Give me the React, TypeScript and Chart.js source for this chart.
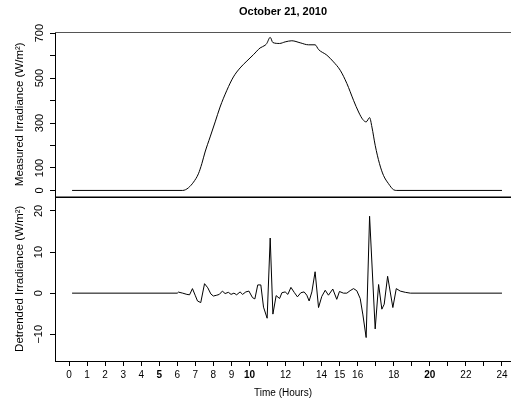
import { useEffect, useRef } from 'react';
import { Chart, registerables } from 'chart.js';

Chart.register(...registerables);

// ---- data ----
const measuredHours = [
  0.1667, 6.3, 6.45, 6.62, 6.9, 7.17, 7.36, 7.54, 7.82, 8.1, 8.37, 8.75, 9.11, 9.48, 9.86,
  10.22, 10.59, 10.87, 10.96, 11.15, 11.3, 11.67, 11.98, 12.35, 12.81, 13.27, 13.64, 13.83,
  14.29, 14.66, 15.03, 15.4, 15.77, 16.05, 16.29, 16.47, 16.66, 16.79, 16.97, 17.21, 17.43,
  17.71, 17.99, 18.17, 24.0,
];
const measuredValues = [
  0, 0, 3, 12, 37, 74, 119, 171, 238, 305, 371, 446, 505, 545, 576,
  604, 634, 646, 654, 681, 658, 654, 661, 666, 657, 648, 648, 627,
  602, 572, 535, 476, 401, 349, 315, 305, 324, 282, 201, 119, 67,
  30, 3, 0, 0,
];

const detrendedHours = [
  0.1667, 6.0, 6.06, 6.3, 6.53, 6.68, 6.84, 6.99, 7.12, 7.3, 7.51, 7.69, 7.86, 8.0, 8.19,
  8.33, 8.5, 8.65, 8.83, 8.98, 9.14, 9.29, 9.48, 9.62, 9.8, 9.97, 10.17, 10.3, 10.46, 10.63,
  10.78, 10.98, 11.15, 11.3, 11.48, 11.67, 11.8, 11.98, 12.13, 12.3, 12.48, 12.66, 12.85,
  13.03, 13.18, 13.31, 13.46, 13.64, 13.83, 14.01, 14.2, 14.38, 14.62, 14.84, 14.99, 15.21,
  15.4, 15.58, 15.77, 15.95, 16.14, 16.29, 16.47, 16.66, 16.97, 17.16, 17.34, 17.47, 17.66,
  17.95, 18.14, 18.36, 18.64, 18.92, 24.0,
];
const detrendedValues = [
  0, 0, 0.25, 0, -0.3, -0.4, 1.1, -0.5, -1.9, -2.3, 2.3, 1.3, -0.2, -0.7, -0.5,
  -0.3, 0.5, -0.1, 0.2, -0.3, 0.0, -0.4, 0.3, -0.3, 0.3, 0.5, -1.1, -1.4, 2.0, 2.0,
  -3.4, -6.1, 13.4, -5.1, -0.6, -1.3, 0.1, 0.3, -0.3, 1.4, 0.2, -0.9, 0.1,
  0.3, -0.5, -1.9, 0.3, 5.2, -3.5, -0.8, 0.7, -0.5, 1.0, -1.5, 0.4, 0.0,
  0.0, 0.6, 1.1, 0.6, -1.3, -5.3, -10.8, 18.7, -8.7, 2.1, -3.9, -2.7, 4.1,
  -3.5, 1.1, 0.5, 0.2, 0.0, 0,
];

const xTickValues = [0, 1, 2, 3, 4, 5, 6, 7, 8, 9, 10, 11, 12, 13, 14, 15, 16, 17, 18, 19, 20, 21, 22, 23, 24];
const xTickLabels = ['0', '1', '2', '3', '4', '5', '6', '7', '8', '9', '10', '', '12', '', '14', '15', '16', '', '18', '', '20', '', '22', '', '24'];
const xBoldTicks = [5, 10, 20];

const measuredTickValues = [0, 100, 200, 300, 400, 500, 600, 700];
const measuredTickLabels = ['0', '100', '', '300', '', '500', '', '700'];

const detrendedTickValues = [-10, 0, 10, 20];
const detrendedTickLabels = ['\u221210', '0', '10', '20'];

const titleText = 'October 21, 2010';
const xTitle = 'Time (Hours)';
const topTitle = 'Measured Irradiance (W/m\u00B2)';
const bottomTitle = 'Detrended Irradiance (W/m\u00B2)';

const FONT = "'Liberation Sans', Arial, Helvetica, sans-serif";

const framePlugin = {
  id: 'panelFrame',
  afterDraw(chart: any) {
    const { ctx, chartArea } = chart;
    const top = chart.scales.yTop;
    ctx.save();
    ctx.strokeStyle = '#555';
    ctx.lineWidth = 1;
    ctx.beginPath();
    ctx.moveTo(chartArea.left, Math.round(top.top) + 0.5);
    ctx.lineTo(chartArea.right, Math.round(top.top) + 0.5);
    ctx.stroke();
    ctx.strokeStyle = '#000';
    ctx.lineWidth = 1.5;
    ctx.beginPath();
    ctx.moveTo(chartArea.left, Math.round(top.bottom) + 0.25);
    ctx.lineTo(chartArea.right, Math.round(top.bottom) + 0.25);
    ctx.stroke();
    ctx.restore();
  },
};

function yScale(opts: {
  min: number; max: number; values: number[]; labels: string[]; title: string; weight: number; pad: number;
}) {
  return {
    type: 'linear' as const,
    position: 'left' as const,
    stack: 'panels',
    stackWeight: 1,
    weight: opts.weight,
    min: opts.min,
    max: opts.max,
    afterBuildTicks: (s: any) => {
      s.ticks = opts.values.map((v) => ({ value: v }));
    },
    afterFit: (s: any) => {
      s.width = 55;
    },
    ticks: {
      autoSkip: false,
      minRotation: 90,
      maxRotation: 90,
      crossAlign: 'center' as const,
      padding: opts.pad,
      color: '#000',
      font: { family: FONT, size: 11 },
      callback: (v: any) => {
        const i = opts.values.indexOf(Number(v));
        return i >= 0 ? opts.labels[i] : '';
      },
    },
    grid: { drawOnChartArea: false, drawTicks: true, tickLength: 5, color: '#000' },
    border: { display: true, color: '#000', width: 1 },
    title: {
      display: true,
      text: opts.title,
      color: '#000',
      font: { family: FONT, size: 11.5 },
      padding: { top: 13, bottom: 0 },
    },
  };
}

export default function App() {
  const ref = useRef<HTMLCanvasElement>(null);

  useEffect(() => {
    if (!ref.current) return;
    const chart = new Chart(ref.current, {
      type: 'line',
      data: {
        datasets: [
          {
            data: measuredHours.map((h, i) => ({ x: h, y: measuredValues[i] })),
            yAxisID: 'yTop',
            borderColor: '#000',
            borderWidth: 1,
            pointRadius: 0,
            cubicInterpolationMode: 'monotone',
            fill: false,
          },
          {
            data: detrendedHours.map((h, i) => ({ x: h, y: detrendedValues[i] })),
            yAxisID: 'yBottom',
            borderColor: '#000',
            borderWidth: 1,
            pointRadius: 0,
            tension: 0,
            fill: false,
          },
        ],
      },
      options: {
        animation: false,
        responsive: false,
        events: [],
        layout: { padding: 0 },
        plugins: {
          legend: { display: false },
          tooltip: { enabled: false },
          title: {
            display: true,
            text: titleText,
            fullSize: false,
            color: '#000',
            font: { family: FONT, size: 11, weight: 'bold' },
            padding: { top: 5.4, bottom: 13.4 },
          },
        },
        scales: {
          x: {
            type: 'linear',
            position: 'bottom',
            min: -0.78,
            max: 24.5,
            afterBuildTicks: (s: any) => {
              s.ticks = xTickValues.map((v) => ({ value: v }));
            },
            afterFit: (s: any) => {
              s.height = 44;
            },
            ticks: {
              autoSkip: false,
              minRotation: 0,
              maxRotation: 0,
              padding: 3,
              color: '#000',
              font: (c: any) => ({
                family: FONT,
                size: 10,
                weight: c.tick && xBoldTicks.includes(c.tick.value) ? 'bold' : 'normal',
              }),
              callback: (v: any) => {
                const i = xTickValues.indexOf(Number(v));
                return i >= 0 ? xTickLabels[i] : '';
              },
            },
            grid: { drawOnChartArea: false, drawTicks: true, tickLength: 5, color: '#000' },
            border: { display: true, color: '#000', width: 1 },
            title: {
              display: true,
              text: xTitle,
              color: '#000',
              font: { family: FONT, size: 10 },
              padding: { top: 0, bottom: 6 },
            },
          },
          yTop: yScale({
            min: -27, max: 705, values: measuredTickValues, labels: measuredTickLabels,
            title: topTitle, weight: 1, pad: 1,
          }),
          yBottom: yScale({
            min: -16.5, max: 23.5, values: detrendedTickValues, labels: detrendedTickLabels,
            title: bottomTitle, weight: 0, pad: 2,
          }),
        },
      } as any,
      plugins: [framePlugin],
    });
    return () => chart.destroy();
  }, []);

  return (
    <div style={{ position: 'absolute', left: 0, top: 0, width: 511, height: 405, background: '#fff' }}>
      <canvas ref={ref} width={511} height={405} style={{ display: 'block', width: 511, height: 405 }} />
    </div>
  );
}
